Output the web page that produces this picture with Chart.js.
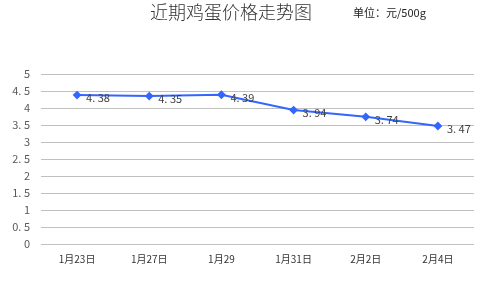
<!DOCTYPE html>
<html>
<head>
<meta charset="utf-8">
<script src="https://cdn.jsdelivr.net/npm/chart.js@4/dist/chart.umd.min.js"></script>
<style>
    html, body { margin: 0; padding: 0; background: #fff; }
    #wrap { width: 487px; height: 281px; position: relative; }
</style>
</head>
<body>
<div id="wrap"><canvas id="eggChart" width="487" height="281"></canvas></div>
<script>
const categories = ['1月23日', '1月27日', '1月29', '1月31日', '2月2日', '2月4日'];
const prices = [4.38, 4.35, 4.39, 3.94, 3.74, 3.47];
const yTicks = [0, 0.5, 1, 1.5, 2, 2.5, 3, 3.5, 4, 4.5, 5];

const chartTitle = '近期鸡蛋价格走势图';
const unitText = '单位：元/500g';

const cjk = '"Noto Sans CJK SC", "Noto Sans", sans-serif';

// "4.5" -> "4. 5" like the original
const fmt = (v) => String(v).replace('.', '. ');

const headerPlugin = {
    id: 'header',
    afterDraw: (chart) => {
        const ctx = chart.ctx;
        ctx.save();
        ctx.textBaseline = 'middle';
        ctx.fillStyle = '#333';
        ctx.font = '300 18px ' + cjk;
        ctx.textAlign = 'center';
        ctx.fillText(chartTitle, 231, 12);
        ctx.fillStyle = '#222';
        ctx.font = '11px ' + cjk;
        ctx.textAlign = 'left';
        ctx.fillText(unitText, 353, 13);
        ctx.restore();
    }
};

const labelPlugin = {
    id: 'pointLabels',
    afterDatasetsDraw: (chart) => {
        const ctx = chart.ctx;
        const meta = chart.getDatasetMeta(0);
        ctx.save();
        ctx.fillStyle = '#404040';
        ctx.font = '11px ' + cjk;
        ctx.textAlign = 'left';
        ctx.textBaseline = 'middle';
        meta.data.forEach((pt, i) => {
            ctx.fillText(fmt(prices[i]), pt.x + 9, pt.y + 3);
        });
        ctx.restore();
    }
};

new Chart(document.getElementById('eggChart'), {
    type: 'line',
    data: {
        labels: categories,
        datasets: [{
            data: prices,
            borderColor: '#3366ff',
            backgroundColor: '#3366ff',
            borderWidth: 2,
            pointStyle: 'rectRot',
            pointRadius: 3,
            pointHoverRadius: 3,
            tension: 0
        }]
    },
    options: {
        responsive: false,
        animation: false,
        layout: { padding: { top: 74, right: 13, bottom: 10, left: 0 } },
        plugins: {
            legend: { display: false },
            tooltip: { enabled: false }
        },
        scales: {
            x: {
                offset: true,
                grid: { display: false, drawTicks: false },
                border: { display: false },
                ticks: {
                    color: '#333',
                    font: { family: cjk, size: 10 },
                    padding: 9,
                    maxRotation: 0
                },
                afterFit: (axis) => { axis.height = 27; }
            },
            y: {
                min: 0,
                max: 5,
                afterBuildTicks: (axis) => { axis.ticks = yTicks.map(v => ({ value: v })); },
                grid: { color: '#c0c0c0', lineWidth: 1, drawTicks: false },
                border: { display: false },
                ticks: {
                    color: '#595959',
                    font: { family: cjk, size: 11 },
                    padding: 11,
                    callback: (v) => fmt(v)
                },
                afterFit: (axis) => { axis.width = 41; }
            }
        }
    },
    plugins: [headerPlugin, labelPlugin]
});
</script>
</body>
</html>
